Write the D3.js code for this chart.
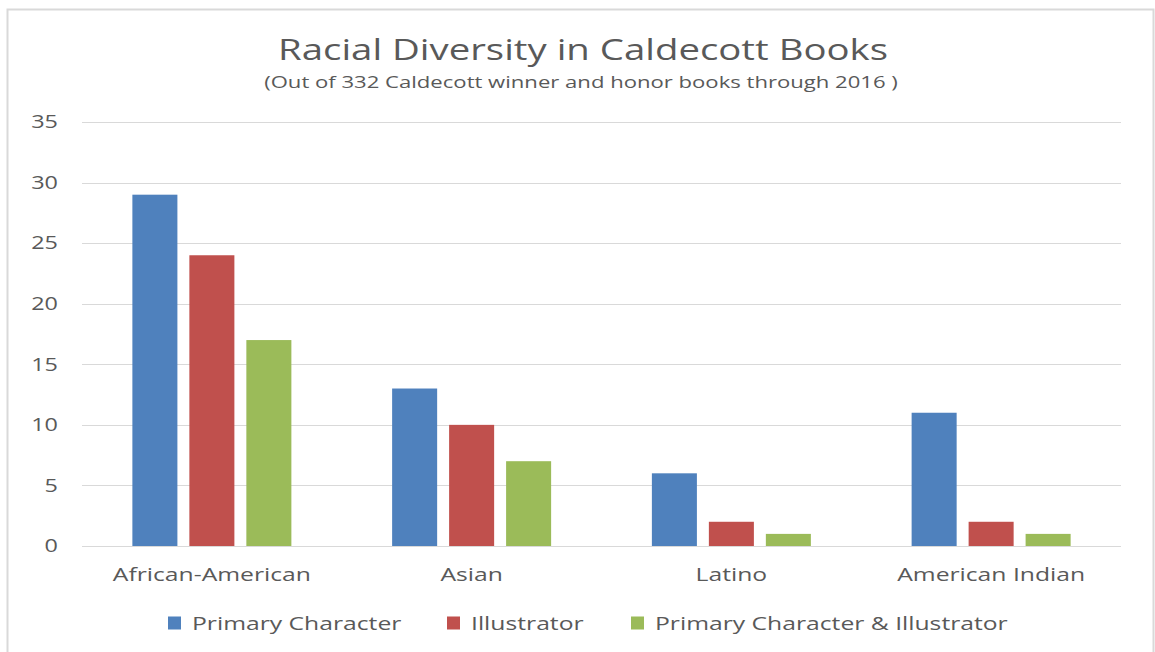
<!DOCTYPE html>
<html lang="en">
<head>
<meta charset="UTF-8">
<title>Racial Diversity in Caldecott Books</title>
<script src="https://d3js.org/d3.v7.min.js"></script>
<style>
    body { margin: 0; background: #fff; font-family: "Open Sans", sans-serif; }
    .grid line { stroke: #d9d9d9; stroke-width: 1; shape-rendering: crispEdges; }
    .grid path { display: none; }
    text { fill: #595959; }
</style>
</head>
<body>
<svg width="1155" height="652"></svg>
<script>
    const categories = ["African-American", "Asian", "Latino", "American Indian"];
    const seriesNames = ["Primary Character", "Illustrator", "Primary Character & Illustrator"];
    const primaryCharacter = [29, 13, 6, 11];
    const illustrator = [24, 10, 2, 2];
    const both = [17, 7, 1, 1];
    const yTicks = [0, 5, 10, 15, 20, 25, 30, 35];
    const colors = ["#4F81BD", "#C0504D", "#9BBB59"];

    const seriesValues = [primaryCharacter, illustrator, both];

    // the source picture is stretched sideways, so text is widened a bit
    const stretch = 1.3;
    const place = (px, py) => `translate(${px},${py}) scale(${stretch},1)`;

    const svg = d3.select("svg");

    // chart frame
    svg.append("rect")
        .attr("x", 7.5).attr("y", 9.5)
        .attr("width", 1146).attr("height", 660)
        .attr("fill", "none")
        .attr("stroke", "#d9d9d9")
        .attr("stroke-width", 2);

    const margin = { left: 82, right: 1121, top: 122, bottom: 546 };

    const x = d3.scaleBand()
        .domain(categories)
        .range([margin.left, margin.right]);

    const xInner = d3.scaleBand()
        .domain(seriesNames)
        .range([x.bandwidth() / 2 - 79.5, x.bandwidth() / 2 + 79.5])
        .paddingInner(0.21);

    const y = d3.scaleLinear()
        .domain([0, 35])
        .range([margin.bottom, margin.top]);

    // gridlines
    svg.append("g")
        .attr("class", "grid")
        .attr("transform", `translate(${margin.left},0)`)
        .call(d3.axisLeft(y).tickValues(yTicks).tickSize(-(margin.right - margin.left)).tickFormat(""));

    // y tick labels
    svg.append("g")
        .selectAll("text")
        .data(yTicks)
        .join("text")
        .attr("transform", d => place(58, y(d)))
        .attr("dy", "0.35em")
        .attr("text-anchor", "end")
        .attr("font-size", 18)
        .text(d => d);

    // bars
    const groups = svg.append("g")
        .selectAll("g")
        .data(categories)
        .join("g")
        .attr("transform", d => `translate(${x(d)},0)`);

    groups.selectAll("rect")
        .data((c, i) => seriesNames.map((s, j) => ({ s, v: seriesValues[j][i], color: colors[j] })))
        .join("rect")
        .attr("x", d => xInner(d.s))
        .attr("y", d => y(d.v))
        .attr("width", xInner.bandwidth())
        .attr("height", d => y(0) - y(d.v))
        .attr("fill", d => d.color);

    // category labels
    svg.append("g")
        .selectAll("text")
        .data(categories)
        .join("text")
        .attr("transform", d => place(x(d) + x.bandwidth() / 2, 581))
        .attr("text-anchor", "middle")
        .attr("font-size", 19)
        .text(d => d);

    // title
    svg.append("text")
        .attr("transform", place(583, 60))
        .attr("text-anchor", "middle")
        .attr("font-size", 29.5)
        .text("Racial Diversity in Caldecott Books");

    svg.append("text")
        .attr("transform", place(581, 88))
        .attr("text-anchor", "middle")
        .attr("font-size", 17)
        .text("(Out of 332 Caldecott winner and honor books through 2016 )");

    // legend
    const legendX = [168, 447, 631];
    const legend = svg.append("g")
        .selectAll("g")
        .data(seriesNames)
        .join("g")
        .attr("transform", (d, i) => `translate(${legendX[i]},623)`);

    legend.append("rect")
        .attr("x", 0).attr("y", -6.5)
        .attr("width", 13).attr("height", 13)
        .attr("fill", (d, i) => colors[i]);

    legend.append("text")
        .attr("transform", place(24, 0))
        .attr("dy", "0.35em")
        .attr("font-size", 19)
        .text(d => d);
</script>
</body>
</html>
